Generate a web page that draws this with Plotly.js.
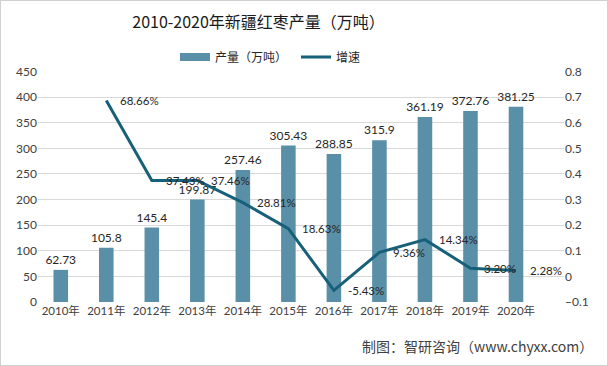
<!DOCTYPE html>
<html>
<head>
<meta charset="utf-8">
<script src="https://cdn.plot.ly/plotly-3.0.1.min.js"></script>
<style>
html,body{margin:0;padding:0;background:#fff;}
#wrap{width:608px;height:366px;box-sizing:border-box;border:1px solid #d0d0d0;}
#chart{width:606px;height:364px;}
</style>
</head>
<body>
<div id="wrap"><div id="chart"></div></div>
<script>
const years = ["2010年","2011年","2012年","2013年","2014年","2015年","2016年","2017年","2018年","2019年","2020年"];
const output = [62.73, 105.8, 145.4, 199.87, 257.46, 305.43, 288.85, 315.9, 361.19, 372.76, 381.25];
const growthYears = ["2011年","2012年","2013年","2014年","2015年","2016年","2017年","2018年","2019年","2020年"];
const growth = [0.6866, 0.3743, 0.3746, 0.2881, 0.1863, -0.0543, 0.0936, 0.1434, 0.0320, 0.0228];
const growthLabels = ["68.66%","37.43%","37.46%","28.81%","18.63%","-5.43%","9.36%","14.34%","3.20%","2.28%"];

const FONT = "Lato, 'Noto Sans CJK SC', sans-serif";
const barColor = "#5a8fa8";
const lineColor = "#17607a";

const bars = {
  type: "bar", name: "产量（万吨）", x: years, y: output, showlegend: false,
  marker: {color: barColor},
  text: output.map(String), textposition: "outside", cliponaxis: false, constraintext: "none",
  textfont: {family: FONT, size: 12, color: "#262626"},
  hoverinfo: "none"
};
// legend-only entry so the bar swatch is a wide band, as in the reference
const barLegend = {
  type: "scatter", mode: "lines", name: "产量（万吨）", x: [null], y: [null],
  line: {color: barColor, width: 8}, legend: "legend", hoverinfo: "none"
};
const line = {
  type: "scatter", mode: "lines", name: "增速", x: growthYears, y: growth, yaxis: "y2",
  line: {color: lineColor, width: 3}, legend: "legend2",
  hoverinfo: "none"
};

const annotations = growthYears.map((c, i) => ({
  x: c, y: growth[i], xref: "x", yref: "y2", text: growthLabels[i],
  showarrow: false, xanchor: "left", yanchor: "middle", xshift: 12,
  font: {family: FONT, size: 11.5, color: "#262626"}
}));
annotations.push({
  xref: "paper", yref: "paper", x: 1.059, y: -0.19, xanchor: "right", yanchor: "middle",
  text: "制图：智研咨询（www.chyxx.com）", showarrow: false,
  font: {family: "'Noto Sans CJK SC', sans-serif", size: 14, color: "#404040"}
});

const legFont = {family: "'Noto Sans CJK SC', sans-serif", size: 12, color: "#262626"};
const layout = {
  width: 606, height: 364,
  margin: {l: 37, r: 43, t: 65, b: 63},
  paper_bgcolor: "#fff", plot_bgcolor: "#fff",
  font: {family: FONT, color: "#404040", size: 12},
  title: {text: "2010-2020年新疆红枣产量（万吨）", x: 0.425, xanchor: "center", y: 0.94, yanchor: "middle",
    font: {family: "'Noto Sans CJK SC', sans-serif", size: 16, color: "#1a1a1a"}},
  showlegend: true,
  legend: {orientation: "h", xref: "container", yref: "container", x: 174/606, xanchor: "left", y: 1 - 56/364, yanchor: "middle",
    font: legFont, bgcolor: "rgba(0,0,0,0)"},
  legend2: {orientation: "h", xref: "container", yref: "container", x: 295/606, xanchor: "left", y: 1 - 56/364, yanchor: "middle",
    font: legFont, bgcolor: "rgba(0,0,0,0)"},
  bargap: 0.68,
  xaxis: {type: "category", categoryarray: years, showgrid: false, zeroline: false, showline: false, ticks: "",
    tickfont: {family: FONT, size: 11.5, color: "#404040"}},
  yaxis: {range: [0, 450], dtick: 50, showgrid: true, gridcolor: "#d9d9d9", gridwidth: 1, zeroline: false, ticks: "",
    tickfont: {family: FONT, size: 12, color: "#404040"}},
  yaxis2: {overlaying: "y", side: "right", range: [-0.1, 0.8], dtick: 0.1, showgrid: false, zeroline: false, ticks: "",
    tickformat: ".1~f",
    tickfont: {family: FONT, size: 12, color: "#404040"}},
  annotations: annotations
};

Plotly.newPlot("chart", [bars, barLegend, line], layout, {displayModeBar: false, staticPlot: true});
</script>
</body>
</html>
